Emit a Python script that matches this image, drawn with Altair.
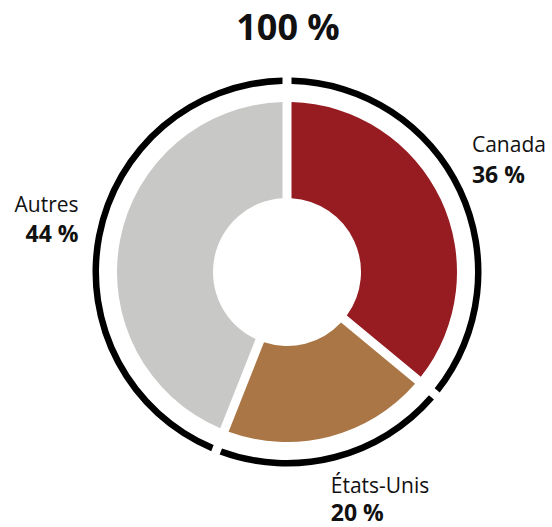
import altair as alt
import pandas as pd
import math

# ---- data ----
categories = ["Canada", "États-Unis", "Autres"]
values = [36, 20, 44]
colors = ["#961C22", "#AA7645", "#C8C8C6"]
title_text = "100 %"

# ---- layout (pixels) ----
W, H = 552, 527
CX, CY = 287, 272
R_IN, R_OUT = 74, 170
RING_IN, RING_OUT = 188, 194.5
GAP = 9
FONT = "Open Sans"

df = pd.DataFrame({"cat": categories, "value": values, "order": list(range(len(categories)))})

pad_slices = GAP / math.sqrt(R_IN ** 2 + R_OUT ** 2)
pad_ring = GAP / math.sqrt(RING_IN ** 2 + RING_OUT ** 2)

base = alt.Chart(df)

theta = alt.Theta("value:Q", stack=True)
order = alt.Order("order:Q")

slices = base.mark_arc(innerRadius=R_IN, outerRadius=R_OUT, padAngle=pad_slices).encode(
    theta=theta,
    order=order,
    color=alt.Color("cat:N", scale=alt.Scale(domain=categories, range=colors), legend=None),
    x=alt.value(CX),
    y=alt.value(CY),
)

ring = base.mark_arc(innerRadius=RING_IN, outerRadius=RING_OUT, padAngle=pad_ring, color="#000000").encode(
    theta=theta,
    order=order,
    x=alt.value(CX),
    y=alt.value(CY),
)

R_LAB = 200
lab_base = (
    base.transform_joinaggregate(total="sum(value)")
    .transform_window(cum="sum(value)", sort=[alt.SortField("order")], frame=[None, 0])
    .transform_calculate(
        mid="(datum.cum - datum.value/2)/datum.total*2*PI",
        lab="datum.value + ' %'",
    )
    .transform_calculate(
        px=f"{CX} + {R_LAB}*sin(datum.mid)",
        py=f"{CY} - {R_LAB}*cos(datum.mid)",
    )
)

# per-label style offsets: (align, dx, dy_name, dy_value)
label_style = {
    "Canada": ("left", 4, -35, -4),
    "États-Unis": ("left", -6, 27, 55),
    "Autres": ("right", -12, -23, 7),
}

layers = [ring, slices]
for cat, (align, dx, dyn, dyv) in label_style.items():
    sub = lab_base.transform_filter(alt.datum.cat == cat)
    enc = dict(x=alt.X("px:Q", scale=None, axis=None), y=alt.Y("py:Q", scale=None, axis=None))
    layers.append(
        sub.mark_text(align=align, baseline="alphabetic", dx=dx, dy=dyn, font=FONT, fontSize=21, color="#111111")
        .encode(text="cat:N", **enc)
    )
    layers.append(
        sub.mark_text(align=align, baseline="alphabetic", dx=dx, dy=dyv, font=FONT, fontSize=23, fontWeight="bold", color="#111111")
        .encode(text="lab:N", **enc)
    )

title = alt.Chart(pd.DataFrame({"t": [title_text]})).mark_text(
    align="center", baseline="alphabetic", font=FONT, fontSize=36, fontWeight="bold", color="#111111"
).encode(text="t:N", x=alt.value(CX + 1), y=alt.value(40))
layers.append(title)

chart = (
    alt.layer(*layers)
    .properties(width=W, height=H, autosize=alt.AutoSizeParams(type="none"), padding=0)
    .configure_view(stroke=None)
)

chart.save("out.html", embed_options={"renderer": "svg", "actions": False})
